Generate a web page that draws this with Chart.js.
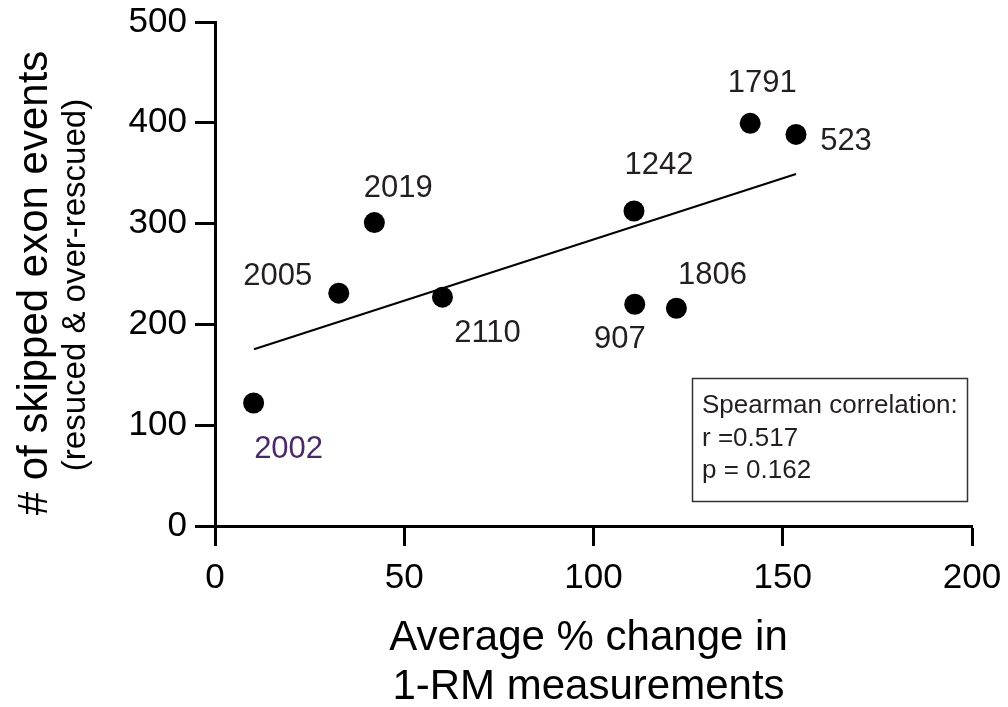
<!DOCTYPE html>
<html>
<head>
<meta charset="utf-8">
<script src="https://cdn.jsdelivr.net/npm/chart.js@4/dist/chart.umd.min.js"></script>
<style>
  html, body { margin: 0; padding: 0; background: #fff; }
  canvas { display: block; }
</style>
</head>
<body>
<canvas id="c" width="1008" height="707"></canvas>
<script>
// Subject IDs and their measurements
const subjects = ['2002', '2005', '2019', '2110', '1242', '907', '1806', '1791', '523'];
const pctChange = [10.2, 32.7, 42.1, 60.1, 110.7, 110.9, 121.9, 141.4, 153.5];
const skippedEvents = [122, 231, 301, 227, 312.5, 220, 216, 399.5, 388.5];

// Linear fit endpoints
const fitX = [10.3, 153.5];
const fitY = [175.3, 349.2];

// Axis ticks
const xTicks = [0, 50, 100, 150, 200];
const yTicks = [0, 100, 200, 300, 400, 500];

// Statistics annotation
const statLines = ['Spearman correlation:', 'r =0.517', 'p = 0.162'];

// Label placement around each point (pixels, dx/dy from point centre)
const labelOffsets = {
  '2002': [35, 46], '2005': [-61, -17], '2019': [24, -34], '2110': [45, 36],
  '1242': [25, -46], '907': [-15, 35], '1806': [36, -33], '1791': [12, -40], '523': [50, 7]
};
const labelColors = { '2002': '#4b2770' };

const FONT = '"Liberation Sans", Arial, Helvetica, sans-serif';

const pointLabels = {
  id: 'pointLabels',
  afterDatasetsDraw(chart) {
    const ctx = chart.ctx;
    const meta = chart.getDatasetMeta(0);
    ctx.save();
    ctx.font = '31px ' + FONT;
    ctx.textAlign = 'center';
    ctx.textBaseline = 'middle';
    meta.data.forEach((el, i) => {
      const name = subjects[i];
      const off = labelOffsets[name] || [0, -30];
      ctx.fillStyle = labelColors[name] || '#231f20';
      ctx.fillText(name, el.x + off[0], el.y + off[1]);
    });
    ctx.restore();
  }
};

const axisTitles = {
  id: 'axisTitles',
  afterDraw(chart) {
    const ctx = chart.ctx;
    const a = chart.chartArea;
    ctx.save();
    ctx.fillStyle = '#000';
    ctx.textAlign = 'center';
    ctx.textBaseline = 'alphabetic';
    // y title, two lines of different size
    ctx.save();
    ctx.translate(47, 283);
    ctx.rotate(-Math.PI / 2);
    ctx.font = '42px ' + FONT;
    ctx.fillText('# of skipped exon events', 0, 0);
    ctx.restore();
    ctx.save();
    ctx.translate(85, 285);
    ctx.rotate(-Math.PI / 2);
    ctx.font = '33px ' + FONT;
    ctx.fillText('(resuced & over-rescued)', 0, 0);
    ctx.restore();
    // x title
    const cx = (a.left + a.right) / 2 - 5;
    ctx.font = '42px ' + FONT;
    ctx.fillText('Average % change in', cx, 650);
    ctx.fillText('1-RM measurements', cx, 699);
    ctx.restore();
  }
};

const statBox = {
  id: 'statBox',
  afterDraw(chart) {
    const ctx = chart.ctx;
    ctx.save();
    ctx.strokeStyle = '#333';
    ctx.lineWidth = 1.5;
    ctx.strokeRect(692.5, 378.5, 275, 123);
    ctx.fillStyle = '#231f20';
    ctx.font = '26px ' + FONT;
    ctx.textAlign = 'left';
    ctx.textBaseline = 'alphabetic';
    const baselines = [413, 445.5, 478];
    statLines.forEach((t, i) => ctx.fillText(t, 702, baselines[i]));
    ctx.restore();
  }
};

const tickFont = { family: FONT, size: 35 };

function noScalePadding(s) {
  s.paddingLeft = 0; s.paddingRight = 0; s.paddingTop = 0; s.paddingBottom = 0;
}

new Chart(document.getElementById('c'), {
  type: 'scatter',
  data: {
    datasets: [
      {
        data: pctChange.map((x, i) => ({ x: x, y: skippedEvents[i] })),
        pointRadius: 10.5,
        pointHoverRadius: 10.5,
        backgroundColor: '#000',
        borderWidth: 0
      },
      {
        type: 'line',
        data: fitX.map((x, i) => ({ x: x, y: fitY[i] })),
        borderColor: '#000',
        borderWidth: 2,
        pointRadius: 0,
        fill: false
      }
    ]
  },
  options: {
    responsive: false,
    devicePixelRatio: 1,
    animation: false,
    layout: { padding: { left: 0, top: 22, right: 36, bottom: 0 } },
    plugins: { legend: { display: false }, tooltip: { enabled: false } },
    scales: {
      x: {
        type: 'linear',
        min: 0,
        max: 200,
        afterBuildTicks(s) { s.ticks = xTicks.map(v => ({ value: v })); },
        afterFit(s) { s.height = 181; noScalePadding(s); },
        ticks: { font: tickFont, color: '#000', padding: 11, maxRotation: 0 },
        grid: { drawOnChartArea: false, drawTicks: true, tickLength: 20, tickWidth: 3, tickColor: '#000' },
        border: { display: true, width: 3, color: '#000' }
      },
      y: {
        type: 'linear',
        min: 0,
        max: 500,
        afterBuildTicks(s) { s.ticks = yTicks.map(v => ({ value: v })); },
        afterFit(s) { s.width = 215; noScalePadding(s); },
        ticks: { font: tickFont, color: '#000', padding: 8 },
        grid: { drawOnChartArea: false, drawTicks: true, tickLength: 20, tickWidth: 3, tickColor: '#000' },
        border: { display: true, width: 3, color: '#000' }
      }
    }
  },
  plugins: [pointLabels, axisTitles, statBox]
});
</script>
</body>
</html>
